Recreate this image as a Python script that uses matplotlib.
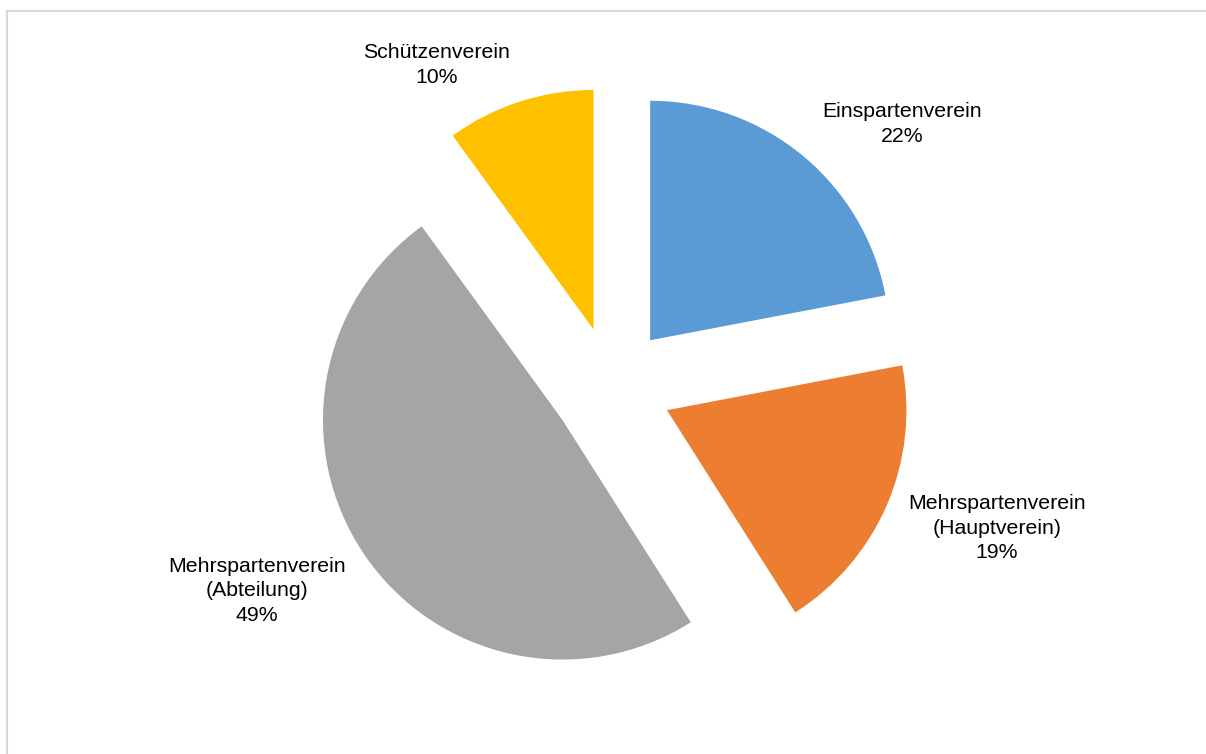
import matplotlib
matplotlib.use("Agg")
import matplotlib.pyplot as plt
from matplotlib.lines import Line2D

# Vereinstypen und Anteile (in Prozent)
categories = ["Einspartenverein", "Mehrspartenverein\n(Hauptverein)",
              "Mehrspartenverein\n(Abteilung)", "Schützenverein"]
shares = [22, 19, 49, 10]
colors = ["#5B9BD5", "#ED7D31", "#A5A5A5", "#FFC000"]

# Label anchor points (figure pixel space, y measured from the bottom)
label_xy = [(902, 630), (997, 226), (257, 163), (437, 689)]

W, H = 1206, 754
R = 239.5
fig = plt.figure(figsize=(W / 100, H / 100), dpi=100)
ax = fig.add_axes([0, 0, 1, 1])

# pie() takes the explode offset in data units, so scale it by the radius
ax.pie(shares, colors=colors, startangle=90, counterclock=False,
       explode=[0.25 * R] * len(shares), radius=R, center=(612, 367.6),
       wedgeprops=dict(linewidth=0), frame=False)
ax.set_xlim(0, W)
ax.set_ylim(0, H)
ax.set_aspect("equal")
ax.axis("off")

for cat, val, (x, y) in zip(categories, shares, label_xy):
    ax.text(x, y, f"{cat}\n{val}%", ha="center", va="center",
            fontsize=15.3, family="Liberation Sans", color="#000000",
            linespacing=1.36)

# chart-area frame (top and left edges)
frame_c = "#D9D9D9"
fig.add_artist(Line2D([7 / W, 1205 / W], [1 - 11 / H, 1 - 11 / H],
                      transform=fig.transFigure, color=frame_c, lw=1.5))
fig.add_artist(Line2D([7 / W, 7 / W], [0, 1 - 11 / H],
                      transform=fig.transFigure, color=frame_c, lw=1.5))

fig.savefig("out.png", dpi=100, facecolor="white")
